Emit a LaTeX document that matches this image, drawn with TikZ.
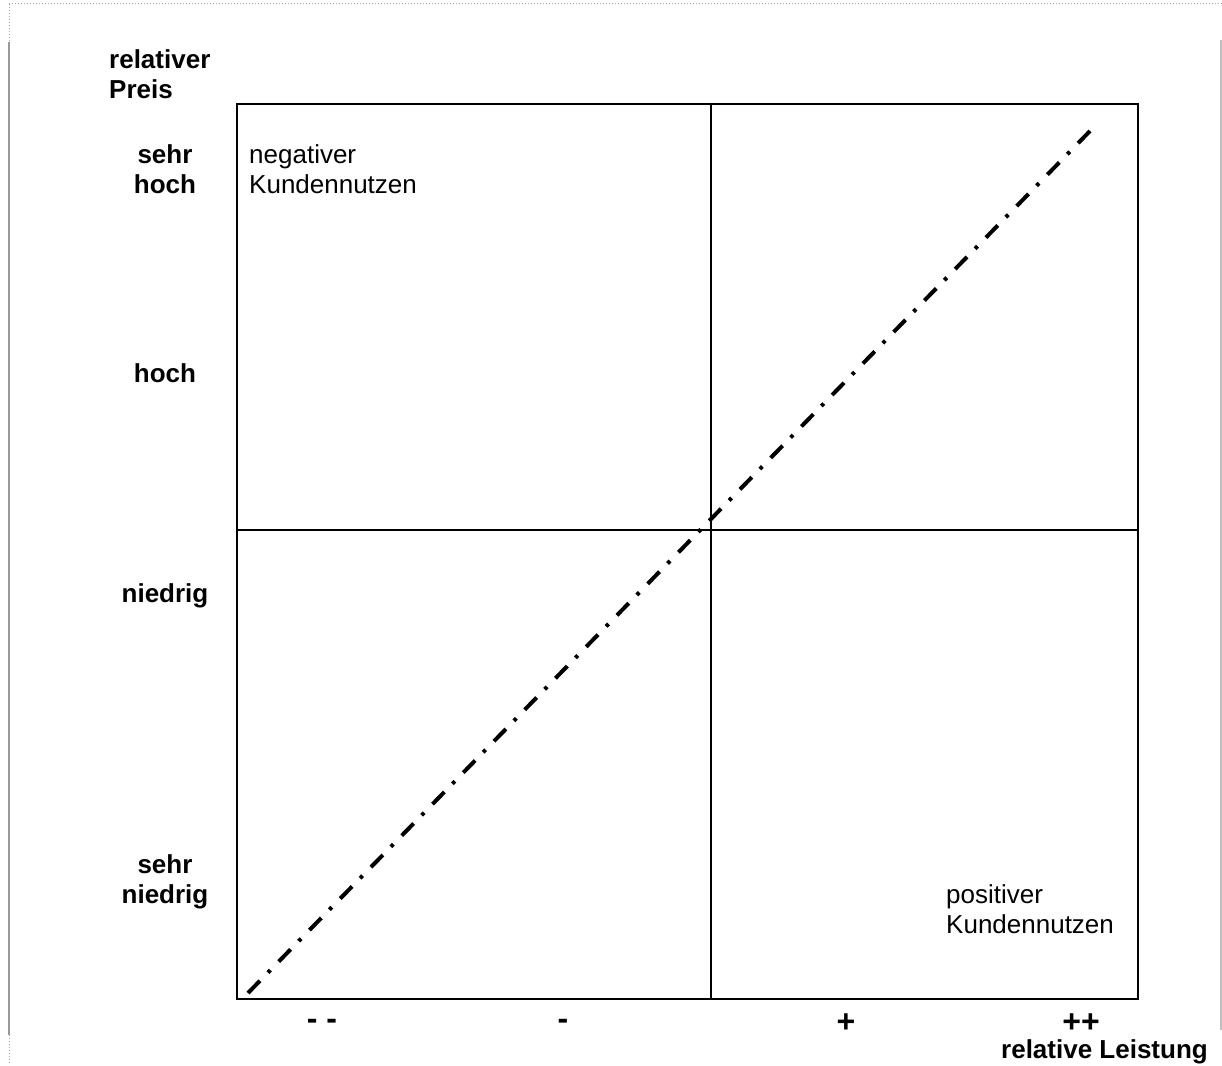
\documentclass[tikz,border=0pt]{standalone}
\usepackage{fontspec}
\setmainfont{Liberation Sans}
\begin{document}
\begin{tikzpicture}[x=1pt,y=-1pt,
  lbl/.style={inner sep=0pt, font=\fontsize{26}{30}\selectfont\bfseries},
  tick/.style={inner sep=0pt, font=\fontsize{32}{36}\selectfont\bfseries},
  txt/.style={inner sep=0pt, font=\fontsize{26}{30}\selectfont},
  frame/.style={line width=2.6pt},
  diag/.style={line width=4pt, dash pattern=on 17pt off 11.5pt on 3.5pt off 12pt},
  pageedge/.style={gray!80, line width=2.5pt},
  pagedot/.style={gray!70, line width=1pt, dotted}]
\useasboundingbox (0,0) rectangle (1222,1065);
% page edges
\draw[pagedot] (9,4) -- (1222,4);
\draw[pagedot] (9,4) -- (9,42);
\draw[pageedge] (9,42) -- (9,1035);
\draw[pagedot] (9,1035) -- (9,1065);
\draw[pageedge, gray!50, line width=1.5pt] (1221,40) -- (1221,1030);
% frame
\coordinate (tl) at (237,104);
\coordinate (br) at (1138,999);
\coordinate (tm) at (711,104);
\coordinate (bm) at (711,999);
\coordinate (lm) at (237,530);
\coordinate (rm) at (1138,530);
\draw[frame] (tl) rectangle (br);
\draw[frame] (tm) -- (bm);
\draw[frame] (lm) -- (rm);
% diagonal
\coordinate (dlo) at (248,993);
\coordinate (dhi) at (1090,131);
\draw[diag] (dlo) -- (dhi);
% y axis labels
\node[lbl, anchor=base west] (rp1) at (109,68) {relativer};
\node[lbl, anchor=base west] (rp2) at (109,98) {Preis};
\node[lbl, anchor=base] (sh1) at (165,163) {sehr};
\node[lbl, anchor=base] (sh2) at (165,193) {hoch};
\node[lbl, anchor=base] (h1) at (165,382) {hoch};
\node[lbl, anchor=base] (n1) at (165,602) {niedrig};
\node[lbl, anchor=base] (sn1) at (165,873) {sehr};
\node[lbl, anchor=base] (sn2) at (165,903) {niedrig};
% quadrant texts
\node[txt, anchor=base west] (neg1) at (249,163) {negativer};
\node[txt, anchor=base west] (neg2) at (249,193) {Kundennutzen};
\node[txt, anchor=base west] (pos1) at (946,903) {positiver};
\node[txt, anchor=base west] (pos2) at (946,933) {Kundennutzen};
% x axis labels
\node[tick, anchor=base] (xmm) at (322,1029) {- -};
\node[tick, anchor=base] (xm) at (563,1029) {-};
\node[tick, anchor=base] (xp) at (846,1032) {+};
\node[tick, anchor=base] (xpp) at (1081,1032) {++};
\node[lbl, anchor=base east] (xl) at (1208,1058) {relative Leistung};
\end{tikzpicture}
\end{document}
